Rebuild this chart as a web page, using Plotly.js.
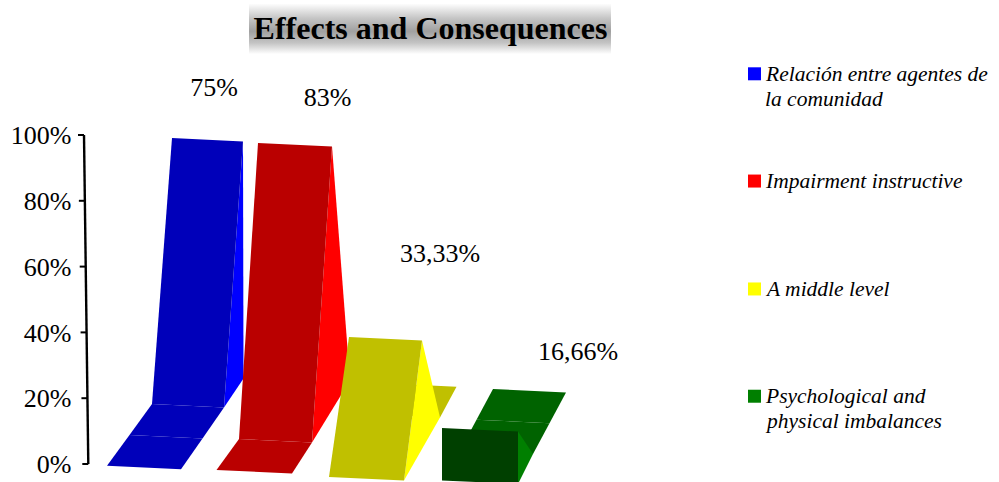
<!DOCTYPE html>
<html><head><meta charset="utf-8">
<script src="https://cdn.plot.ly/plotly-3.0.1.min.js"></script>
<style>html,body{margin:0;padding:0;background:#fff;overflow:hidden}#c{width:999px;height:482px}</style>
</head><body><div id="c"></div>
<script>
// ---- data ----
const categories = ["Relación entre agentes de<br>la comunidad", "Impairment instructive", "A middle level", "Psychological and<br>physical imbalances"];
const valueLabels = ["75%", "83%", "33,33%", "16,66%"];
const barRise = [80.85, 89.97, 42.55, 15.94];     // height of each wall, % axis units
const wallBase = [18.24, 7.6, -3.95, -5];         // level of each wall's foot, % axis units
const tickValues = [0, 20, 40, 60, 80, 100];
const tickLabels = ["0%", "20%", "40%", "60%", "80%", "100%"];

// ---- placement and styling ----
const wallLeft = [152, 239, 329, 442];
const riseLean = [20, 19, 20, 0];
const footWidth = [72, 73, 75, 76];
const topWidth = [71, 74, 73, 76];
const frontSteps = [2, 1, 0, 0];
const backSteps = [0, 0, 1, 2];
const sideDepth = [[19.5, 8.8], [38, 18.85], [36, 19.15], [15, 9.1]];
const step = [22.5, 9.4];          // floor tile, in x units and % units
const stepRight = [21.5, 20, 0, 0];
const backStep = [16.5, 9.35];
const slope = -1.06;
const faceColor = ["#0000BA", "#BA0000", "#C0C000", "#004000"];
const floorColor = ["#0000BA", "#BA0000", "#C0C000", "#006300"];
const sideColor = ["#0000FF", "#FF0000", "#FFFF00", "#007F00"];
const legendColor = ["#0000FF", "#FF0000", "#FFFF00", "#007F00"];
const labelX = [214, 327.5, 440, 578];
const labelLevel = [113.7, 110.7, 63.3, 33.7];
const legendX = 754.5, legendLevel = [118.6, 86, 53.2, 20.6], legendLine = 7.6;
const serif = "'Liberation Serif', 'Times New Roman', serif";
const axisTopX = 84, axisBottomX = 88.3, tickLen = 6;

function poly(pts, color, name) {
  return {type:"scatter", mode:"lines", x:pts.map(p=>p[0]).concat(pts[0][0]), y:pts.map(p=>p[1]).concat(pts[0][1]),
          fill:"toself", fillcolor:color, line:{width:0, color:color}, hoverinfo:"skip", showlegend:false, name:name};
}
const add = (p, v, k=1) => [p[0]+v[0]*k, p[1]+v[1]*k];
const traces = [];

// title band
traces.push({type:"scatter", mode:"lines", x:[249,611,611,249,249], y:[140,140,124.6,124.6,140], fill:"toself",
  line:{width:0}, hoverinfo:"skip", showlegend:false, name:"title band",
  fillcolor:"#aaa",
  fillgradient:{type:"vertical", colorscale:[[0,"#ffffff"],[0.22,"#c4c4c4"],[0.45,"#a0a0a0"],[0.7,"#c4c4c4"],[1,"#ffffff"]]}});

categories.forEach((cat, i) => {
  const A = [wallLeft[i], wallBase[i]];
  const w = [footWidth[i], slope];
  const B = add(A, w);
  const topL = add(A, [riseLean[i], barRise[i]]);
  const topR = add(topL, [topWidth[i], slope]);
  const V = add(B, sideDepth[i]);
  // back floor tiles (behind the wedge)
  for (let k = backSteps[i]-1; k >= 0; k--) {
    const b = add(V, backStep, k), a = add(b, [73, slope], -1);
    traces.push(poly([a, b, add(b, backStep), add(a, backStep)], floorColor[i], cat));
  }
  traces.push(poly([B, topR, V], sideColor[i], cat));
  traces.push(poly([A, B, topR, topL], faceColor[i], cat));
  // front floor tiles
  for (let k = 0; k < frontSteps[i]; k++) {
    const a = add(A, step, -k), b = add(B, [stepRight[i], step[1]], -k);
    traces.push(poly([a, b, add(b, [stepRight[i], step[1]], -1), add(a, step, -1)], floorColor[i], cat));
  }
});

// value axis line and ticks, leaning as in the picture
const axisX = v => axisBottomX + (axisTopX-axisBottomX)*v/100;
traces.push({type:"scatter", mode:"lines", x:[axisX(0),axisX(100)], y:[0,100], line:{color:"#000",width:2.4}, hoverinfo:"skip", showlegend:false, name:"axis"});
tickValues.forEach(v => traces.push({type:"scatter", mode:"lines", x:[axisX(v)-tickLen,axisX(v)], y:[v,v], line:{color:"#000",width:2}, hoverinfo:"skip", showlegend:false, name:"tick"}));

// value labels
traces.push({type:"scatter", mode:"text", x:labelX, y:labelLevel, text:valueLabels, textposition:"middle center",
  textfont:{family:serif,size:26,color:"#000"}, hoverinfo:"skip", showlegend:false, name:"values"});

// legend keys
traces.push({type:"scatter", mode:"markers", x:categories.map(()=>legendX), y:legendLevel,
  marker:{symbol:"square", size:13, color:legendColor, line:{width:0}}, hoverinfo:"skip", showlegend:false, name:"legend"});

// legend text, line by line
const legendText = [];
categories.forEach((c,i) => c.split("<br>").forEach((line,k) => legendText.push({
  text:"<i>"+line+"</i>", x:764.5, y:legendLevel[i]-k*legendLine, xref:"x", yref:"y", xanchor:"left", yanchor:"middle",
  align:"left", showarrow:false, borderpad:0, borderwidth:0, font:{family:serif,size:21.5,color:"#000"}})));

const layout = {
  width:999, height:482, margin:{l:0,r:0,t:0,b:0}, paper_bgcolor:"#fff", plot_bgcolor:"rgba(0,0,0,0)", showlegend:false,
  title:{text:"Effects and Consequences", x:430.5/999, xanchor:"center", xref:"paper", y:1-27.5/482, yanchor:"middle", yref:"paper",
         font:{family:serif,size:32,color:"#000",weight:"bold"}, pad:{t:0,b:0,l:0,r:0}},
  xaxis:{range:[0,999], visible:false, fixedrange:true},
  yaxis:{range:[-5.47,141.03], fixedrange:true, showgrid:false, zeroline:false, showline:false, anchor:"free", position:71.5/999,
         tickmode:"array", tickvals:tickValues, ticktext:tickLabels, ticks:"", tickfont:{family:serif,size:26,color:"#000"}},
  annotations: legendText
};
Plotly.newPlot("c", traces, layout, {displayModeBar:false, staticPlot:true});
</script></body></html>
